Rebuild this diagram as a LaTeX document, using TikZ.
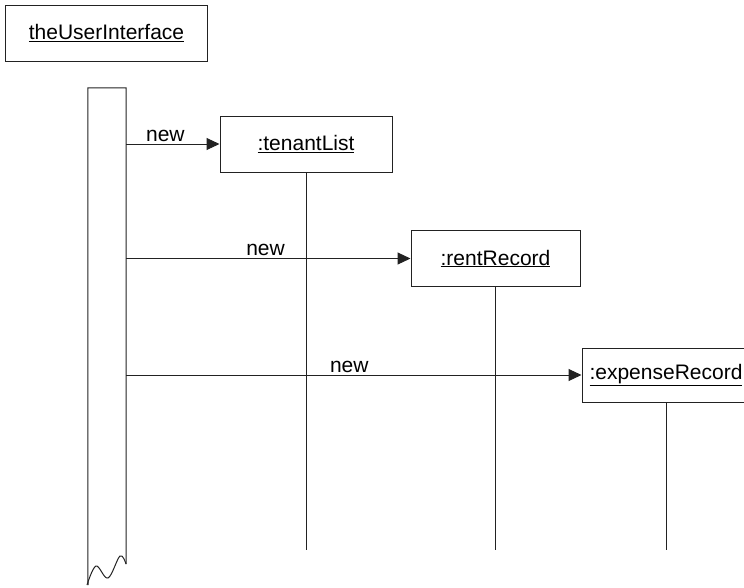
\documentclass[tikz,border=0pt]{standalone}
\usepackage{fontspec}
\setmainfont{Liberation Sans}
\usetikzlibrary{arrows.meta}
\definecolor{ln}{HTML}{222222}
\tikzset{
  obj/.style={draw=ln, line width=1pt, inner sep=0pt, font=\fontsize{21}{25}\selectfont, text=black},
  msg/.style={draw=ln, line width=1pt, -{Triangle[length=13pt,width=12pt]}},
  life/.style={draw=ln, line width=1pt},
  lbl/.style={font=\fontsize{21}{25}\selectfont, anchor=south, inner sep=2pt}
}
\begin{document}
\begin{tikzpicture}[x=1pt,y=-1pt]
\useasboundingbox (0,0) rectangle (744,587);
\node[obj, minimum width=202pt, minimum height=56pt] (ui) at (106.5,33) {\underline{theUserInterface}};
% activation bar
\node[inner sep=0pt, minimum width=38pt, minimum height=476pt] (act) at (107,326) {};
\draw[life] (88,585) -- (act.north west) -- (act.north east) -- (126,564);
\draw[life] plot[smooth, tension=0.6] coordinates {(126,564) (120,556) (108,578) (96,566) (87,585)};
% objects
\node[obj, minimum width=172pt, minimum height=56pt] (tl) at (306,144) {\underline{:tenantList}};
\node[obj, minimum width=169pt, minimum height=56pt] (rr) at (495.5,258.5) {\underline{:rentRecord}};
\node[obj, minimum width=168pt, minimum height=54pt] (er) at (666,375) {\underline{:expenseRecord}};
% lifelines
\draw[life] (tl.south) -- (tl.south |- 0,550);
\draw[life] (rr.south) -- (rr.south |- 0,550);
\draw[life] (er.south) -- (er.south |- 0,550);
% messages
\draw[msg] (act.east |- tl.west) -- node[lbl, pos=0.42] {new} (tl.west);
\draw[msg] (act.east |- rr.west) -- node[lbl, pos=0.49] {new} (rr.west);
\draw[msg] (act.east |- er.west) -- node[lbl, pos=0.49] {new} (er.west);
\end{tikzpicture}
\end{document}
